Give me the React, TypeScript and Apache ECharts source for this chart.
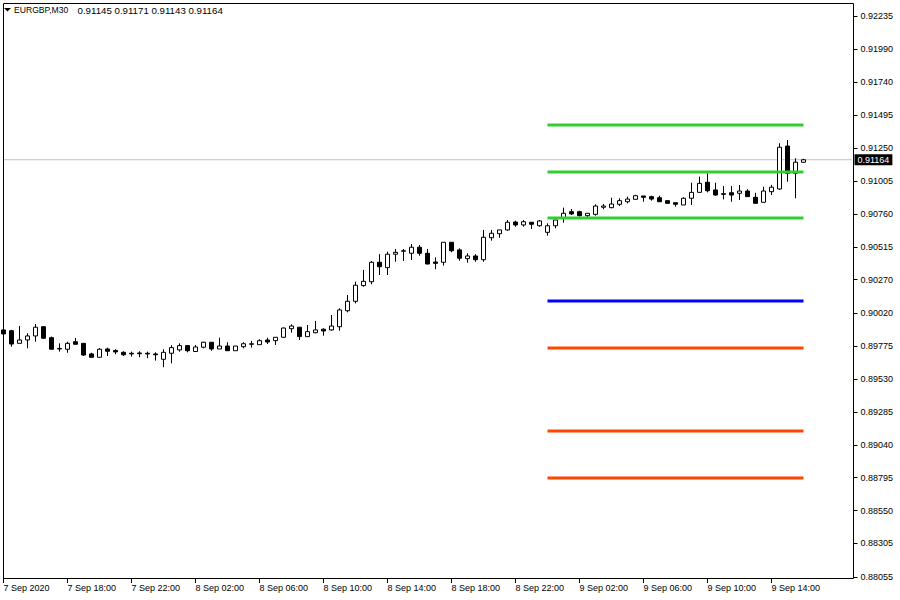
import React, { useEffect, useRef } from "react";
import * as echarts from "echarts";

const SYMBOL = "EURGBP,M30";

// M30 candles, 7 Sep 2020 14:00 ... 9 Sep 2020 16:00
const OPEN = [
  0.89896, 0.8989, 0.89796, 0.89821, 0.89851, 0.8992, 0.89838, 0.89754, 0.89752, 0.89808,
  0.89796, 0.89717, 0.89692, 0.89754, 0.89743, 0.89729, 0.89722, 0.89724, 0.89722, 0.89717,
  0.89677, 0.89722, 0.89747, 0.89779, 0.89735, 0.89767, 0.89804, 0.89754, 0.89776, 0.89741,
  0.89771, 0.89789, 0.89786, 0.89821, 0.89816, 0.89841, 0.89905, 0.89916, 0.89846, 0.89875,
  0.89901, 0.89896, 0.8992, 0.90039, 0.90109, 0.90226, 0.90255, 0.904, 0.9036, 0.9046,
  0.90482, 0.90467, 0.90512, 0.90467, 0.90402, 0.904, 0.90549, 0.90492, 0.90427, 0.90447,
  0.90419, 0.90583, 0.90613, 0.90641, 0.907, 0.90678, 0.90698, 0.90672, 0.90623, 0.90672,
  0.90728, 0.90777, 0.90777, 0.90747, 0.90757, 0.9081, 0.90807, 0.90832, 0.90851, 0.90869,
  0.90894, 0.90889, 0.90881, 0.90859, 0.90844, 0.90827, 0.90877, 0.90921, 0.90996, 0.90939,
  0.90911, 0.90918, 0.90914, 0.90931, 0.90884, 0.90847, 0.90926, 0.90946, 0.91266, 0.91063,
  0.91145,
];
const HIGH = [
  0.8991, 0.89896, 0.89925, 0.89871, 0.8994, 0.89925, 0.89846, 0.89796, 0.89808, 0.89836,
  0.89796, 0.89726, 0.89761, 0.89764, 0.89752, 0.89737, 0.89734, 0.89737, 0.89734, 0.89729,
  0.89752, 0.89782, 0.89796, 0.89779, 0.89784, 0.89808, 0.89804, 0.89838, 0.89804, 0.89776,
  0.89804, 0.89814, 0.89826, 0.89838, 0.89841, 0.89914, 0.89938, 0.89916, 0.89933, 0.89963,
  0.89908, 0.90007, 0.90057, 0.90156, 0.90255, 0.90343, 0.9041, 0.9046, 0.90479, 0.90499,
  0.90499, 0.90536, 0.90529, 0.90499, 0.90437, 0.90549, 0.90549, 0.90504, 0.90467, 0.9046,
  0.90641, 0.90641, 0.90641, 0.90715, 0.9071, 0.90715, 0.90698, 0.90715, 0.9069, 0.90715,
  0.90807, 0.90797, 0.90784, 0.90765, 0.90832, 0.90834, 0.90881, 0.90877, 0.90889, 0.90903,
  0.90894, 0.90896, 0.90896, 0.90859, 0.90844, 0.90884, 0.90993, 0.91038, 0.91063, 0.90993,
  0.90968, 0.90968, 0.90976, 0.90944, 0.90918, 0.90963, 0.90976, 0.91287, 0.91311, 0.91175,
  0.91171,
];
const LOW = [
  0.89851, 0.89771, 0.89796, 0.89759, 0.89808, 0.89828, 0.89752, 0.89734, 0.89726, 0.89789,
  0.89702, 0.89692, 0.89692, 0.89702, 0.89715, 0.89702, 0.89697, 0.89692, 0.89685, 0.89667,
  0.89618, 0.89647, 0.89734, 0.89729, 0.89735, 0.89759, 0.89741, 0.89754, 0.89741, 0.89741,
  0.89759, 0.89764, 0.89786, 0.89791, 0.89784, 0.89836, 0.89875, 0.89821, 0.89846, 0.89871,
  0.89853, 0.8989, 0.8989, 0.90027, 0.90094, 0.90218, 0.90236, 0.90305, 0.90305, 0.90404,
  0.9041, 0.90417, 0.90449, 0.90385, 0.90348, 0.90375, 0.90474, 0.90412, 0.90397, 0.90404,
  0.90404, 0.90561, 0.90583, 0.90635, 0.90665, 0.90665, 0.90648, 0.90665, 0.90598, 0.90653,
  0.90695, 0.90752, 0.9074, 0.90735, 0.90747, 0.90795, 0.90802, 0.90819, 0.90839, 0.90869,
  0.90851, 0.90859, 0.90851, 0.90839, 0.90814, 0.90827, 0.90827, 0.90921, 0.90921, 0.90896,
  0.90869, 0.90851, 0.90864, 0.90889, 0.90839, 0.90847, 0.90901, 0.90939, 0.91, 0.90877,
  0.91143,
];
const CLOSE = [
  0.89866, 0.89791, 0.89821, 0.89851, 0.89916, 0.89834, 0.89752, 0.89758, 0.89796, 0.89789,
  0.89709, 0.89692, 0.89752, 0.89737, 0.89732, 0.89711, 0.89717, 0.89719, 0.89717, 0.89711,
  0.89729, 0.89764, 0.89779, 0.89741, 0.89769, 0.89804, 0.89754, 0.89776, 0.89741, 0.89776,
  0.89793, 0.89793, 0.89816, 0.89806, 0.89841, 0.8991, 0.89925, 0.89846, 0.89883, 0.89896,
  0.89888, 0.89925, 0.90045, 0.90109, 0.90229, 0.90258, 0.904, 0.90367, 0.9046, 0.90474,
  0.90486, 0.90512, 0.90467, 0.90387, 0.90392, 0.90549, 0.90486, 0.9043, 0.90447, 0.90419,
  0.90586, 0.90616, 0.90641, 0.90698, 0.90678, 0.90702, 0.90683, 0.90708, 0.90672, 0.90715,
  0.90765, 0.9076, 0.90747, 0.90765, 0.90819, 0.90819, 0.90834, 0.90859, 0.90871, 0.90896,
  0.90884, 0.90871, 0.90851, 0.90839, 0.90832, 0.90877, 0.90921, 0.90988, 0.90933, 0.90901,
  0.90906, 0.90901, 0.90931, 0.90889, 0.90839, 0.90931, 0.90959, 0.91257, 0.91063, 0.91146,
  0.91164,
];

const X_TICK_LABELS = [
  "7 Sep 2020", "7 Sep 18:00", "7 Sep 22:00", "8 Sep 02:00", "8 Sep 06:00",
  "8 Sep 10:00", "8 Sep 14:00", "8 Sep 18:00", "8 Sep 22:00", "9 Sep 02:00",
  "9 Sep 06:00", "9 Sep 10:00", "9 Sep 14:00",
];
const Y_TICKS = [
  0.88055, 0.88305, 0.8855, 0.88795, 0.8904, 0.89285, 0.8953, 0.89775, 0.9002,
  0.9027, 0.90515, 0.9076, 0.91005, 0.9125, 0.91495, 0.9174, 0.9199, 0.92235,
];
const PIVOT_LEVELS = [0.91423, 0.91073, 0.9073, 0.90111, 0.89761, 0.89143, 0.88793];
const PIVOT_COLORS = ["#32CD32", "#32CD32", "#32CD32", "#0000FF", "#FF4500", "#FF4500", "#FF4500"];
const PIVOT_START = 68; // 9 Sep 00:00
const CURRENT_PRICE = 0.91164;
const EMPTY_SLOTS = 6; // right-hand chart shift
const BARS_PER_TICK = 8;

const DAY_NAMES = ["7 Sep", "8 Sep", "9 Sep", "10 Sep"];
function buildCategories(count: number): string[] {
  const out: string[] = [];
  for (let i = 0; i < count; i++) {
    const mins = 14 * 60 + i * 30;
    const day = Math.floor(mins / 1440);
    const m = mins % 1440;
    const hh = String(Math.floor(m / 60)).padStart(2, "0");
    const mm = String(m % 60).padStart(2, "0");
    out.push(`${DAY_NAMES[day]} ${hh}:${mm}`);
  }
  return out;
}

const FONT = '"Liberation Sans", Arial, sans-serif';

export default function App() {
  const ref = useRef<HTMLDivElement>(null);
  useEffect(() => {
    if (!ref.current) return;
    const chart = echarts.init(ref.current, undefined, { renderer: "svg" });
    const n = OPEN.length;
    const total = n + EMPTY_SLOTS;
    const cats = buildCategories(total);
    const lastIdx = n - 1;
    const candles = OPEN.map((o, i) => [o, CLOSE[i], LOW[i], HIGH[i]]);
    const showTick = (i: number) => i % BARS_PER_TICK === 0 && i / BARS_PER_TICK < X_TICK_LABELS.length;

    const pivotSeries = PIVOT_LEVELS.map((lv, k) => ({
      type: "line",
      data: [
        [PIVOT_START, lv],
        [lastIdx, lv],
      ],
      symbol: "none",
      silent: true,
      lineStyle: { width: 3, color: PIVOT_COLORS[k] },
      z: 3,
    }));

    const hdr = `${OPEN[lastIdx].toFixed(5)} ${HIGH[lastIdx].toFixed(5)} ${LOW[lastIdx].toFixed(5)} ${CLOSE[lastIdx].toFixed(5)}`;

    chart.setOption({
      animation: false,
      backgroundColor: "#ffffff",
      textStyle: { fontFamily: FONT },
      grid: { left: 3.5, top: 3, width: 848, height: 575 },
      xAxis: {
        type: "category",
        data: cats,
        boundaryGap: false,
        axisLine: { show: false },
        axisTick: {
          show: true,
          interval: (i: number) => showTick(i),
          length: 5,
          lineStyle: { color: "#000" },
        },
        axisLabel: {
          interval: (i: number) => showTick(i),
          formatter: (_v: string, i: number) => X_TICK_LABELS[i / BARS_PER_TICK] ?? "",
          align: "left",
          margin: 5,
          fontSize: 9,
          color: "#000",
          fontFamily: FONT,
        },
        splitLine: { show: false },
      },
      yAxis: {
        type: "value",
        position: "right",
        min: 0.880475,
        max: 0.923318,
        offset: 2,
        axisLine: { show: false },
        axisTick: {
          show: true,
          length: 4,
          customValues: Y_TICKS,
          lineStyle: { color: "#000" },
        },
        axisLabel: {
          customValues: Y_TICKS,
          formatter: (v: number) => v.toFixed(5),
          margin: 7,
          fontSize: 9,
          color: "#000",
          fontFamily: FONT,
        },
        splitLine: { show: false },
      },
      graphic: [
        {
          type: "rect",
          shape: { x: 3.5, y: 3.5, width: 850, height: 575 },
          style: { fill: "none", stroke: "#000", lineWidth: 1 },
          silent: true,
          z: 10,
        },
        {
          type: "polygon",
          shape: { points: [[4, 8], [11, 8], [7.5, 11.5]] },
          style: { fill: "#000" },
          silent: true,
        },
        {
          type: "text",
          x: 14,
          y: 10,
          style: { text: SYMBOL, font: `8.6px ${FONT}`, fill: "#000", verticalAlign: "middle" },
          silent: true,
        },
        {
          type: "text",
          x: 77.5,
          y: 10,
          style: { text: hdr, font: `9.7px ${FONT}`, fill: "#000", verticalAlign: "middle" },
          silent: true,
        },
      ],
      series: [
        {
          type: "line",
          data: [
            [0, CURRENT_PRICE],
            [total - 1, CURRENT_PRICE],
          ],
          symbol: "none",
          silent: true,
          lineStyle: { color: "#C0C0C0", width: 1 },
          endLabel: {
            show: true,
            formatter: () => CURRENT_PRICE.toFixed(5),
            color: "#fff",
            backgroundColor: "#000",
            padding: [1, 3, 1, 3],
            fontSize: 9,
            fontFamily: FONT,
            distance: 3,
          },
          z: 1,
        },
        {
          type: "candlestick",
          data: candles,
          barWidth: 4,
          itemStyle: {
            color: "#ffffff",
            color0: "#000000",
            borderColor: "#000000",
            borderColor0: "#000000",
            borderWidth: 1,
          },
          z: 2,
        },
        ...pivotSeries,
      ],
    });
    return () => chart.dispose();
  }, []);
  return (
    <div
      ref={ref}
      style={{ position: "fixed", left: 0, top: 0, width: 900, height: 600, background: "#fff" }}
    />
  );
}
